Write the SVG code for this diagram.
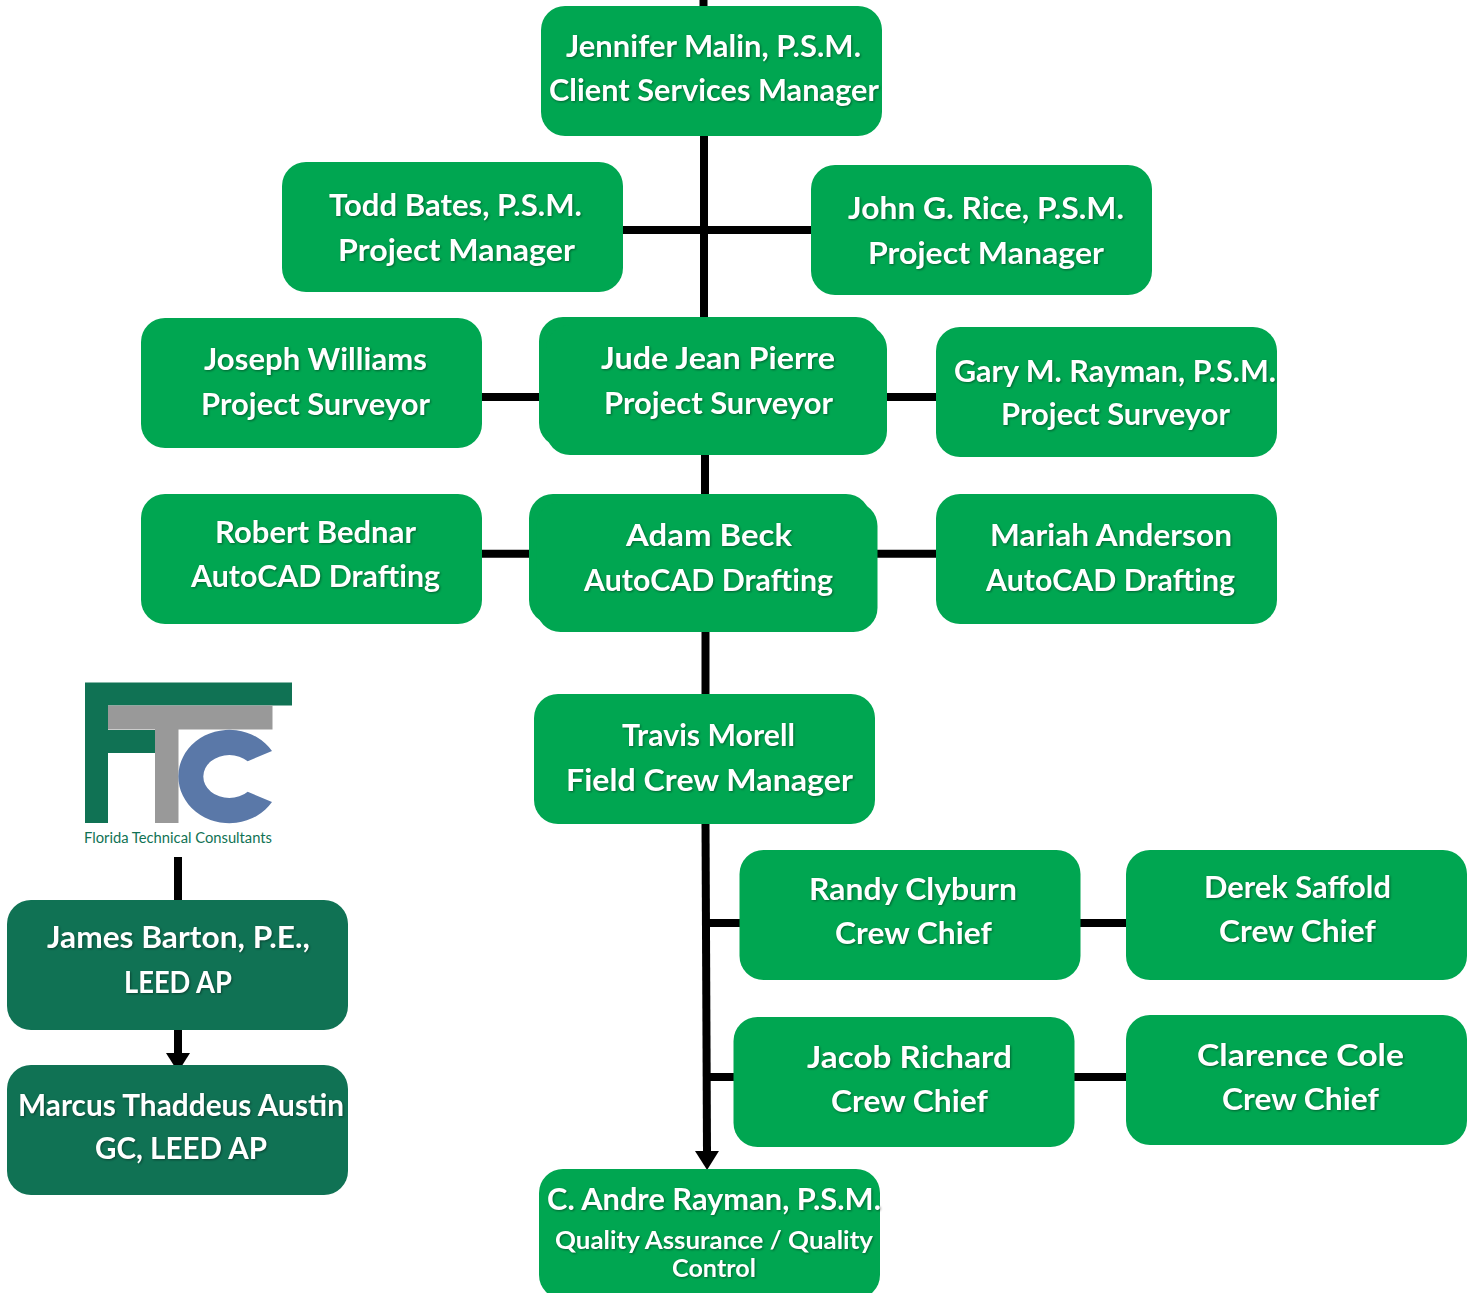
<svg xmlns="http://www.w3.org/2000/svg" width="1476" height="1293" viewBox="0 0 1476 1293">
<style>
.g{fill:#00a651}.d{fill:#107254}
.t{font-family:"Lato","Liberation Sans",sans-serif;font-weight:700;font-size:30px;fill:#fff;filter:drop-shadow(1px 1.5px 1px rgba(0,0,0,.4));transform:translateY(.8px)}
.s{font-size:25px}
.c{fill:none;stroke:#000;stroke-width:8}
.a{marker-end:url(#arrow)}
.lt{font-family:"Lato","Open Sans",sans-serif;font-size:14.5px;fill:#107254}
</style>
<defs>
<marker id="arrow" markerUnits="userSpaceOnUse" markerWidth="24" markerHeight="24" refX="0" refY="12" orient="auto"><path d="M0 0L19 12L0 24Z" fill="#000"/></marker>
</defs>
<rect width="1476" height="1293" fill="#fff"/>
<g id="connectors">
<path class="c" d="M703.5 0V8M704 134V320M620 230H815"/>
<path class="c" d="M480 397H545M885 397H940"/>
<path class="c" d="M705 452V498M705.5 630V698"/>
<path class="c" d="M480 553.8H535M875 553.8H940"/>
<path class="c a" d="M705.5 822L707 1151"/>
<path class="c" d="M706 923H743M1078 923H1130M706 1077H737M1072 1077H1130"/>
<path class="c" d="M178 857V903"/>
<path class="c a" d="M178 1028V1053"/>
</g>
<g id="logo">
<path class="d" d="M85 682.5H292V705.5H108V730H155V753H108V823H85Z"/>
<path fill="#999" d="M108 705.5H272.5V729.5H178.5V823H155V729.5H108Z"/>
<path fill="#5a78a8" d="M272 750.9A51 46.7 0 1 0 272 802.1L247.7 791.7A26 21.5 0 1 1 247.7 761.3Z"/>
<text class="lt" x="84" y="843" textLength="188" lengthAdjust="spacingAndGlyphs">Florida Technical Consultants</text>
</g>
<g id="jennifer"><rect class="g" x="541" y="6" width="341" height="130" rx="24"/><text class="t" x="566" y="56" textLength="295" lengthAdjust="spacingAndGlyphs">Jennifer Malin, P.S.M.</text><text class="t" x="549" y="100" textLength="330" lengthAdjust="spacingAndGlyphs">Client Services Manager</text></g>
<g id="todd"><rect class="g" x="282" y="162" width="341" height="130" rx="24"/><text class="t" x="329" y="215" textLength="253" lengthAdjust="spacingAndGlyphs">Todd Bates, P.S.M.</text><text class="t" x="338" y="260" textLength="237" lengthAdjust="spacingAndGlyphs">Project Manager</text></g>
<g id="john"><rect class="g" x="811" y="165" width="341" height="130" rx="24"/><text class="t" x="848" y="218" textLength="276" lengthAdjust="spacingAndGlyphs">John G. Rice, P.S.M.</text><text class="t" x="868" y="263" textLength="236" lengthAdjust="spacingAndGlyphs">Project Manager</text></g>
<g id="joseph"><rect class="g" x="141" y="318" width="341" height="130" rx="24"/><text class="t" x="204" y="369" textLength="223" lengthAdjust="spacingAndGlyphs">Joseph Williams</text><text class="t" x="201" y="414" textLength="229" lengthAdjust="spacingAndGlyphs">Project Surveyor</text></g>
<g id="jude"><rect class="g" x="539" y="317" width="341" height="130" rx="24"/><rect class="g" x="546" y="325" width="341" height="130" rx="24"/><text class="t" x="601" y="368" textLength="234" lengthAdjust="spacingAndGlyphs">Jude Jean Pierre</text><text class="t" x="604" y="413" textLength="229" lengthAdjust="spacingAndGlyphs">Project Surveyor</text></g>
<g id="gary"><rect class="g" x="936" y="327" width="341" height="130" rx="24"/><text class="t" x="954" y="381" textLength="322" lengthAdjust="spacingAndGlyphs">Gary M. Rayman, P.S.M.</text><text class="t" x="1001" y="424" textLength="229" lengthAdjust="spacingAndGlyphs">Project Surveyor</text></g>
<g id="robert"><rect class="g" x="141" y="494" width="341" height="130" rx="24"/><text class="t" x="215" y="542" textLength="201" lengthAdjust="spacingAndGlyphs">Robert Bednar</text><text class="t" x="191" y="586" textLength="249" lengthAdjust="spacingAndGlyphs">AutoCAD Drafting</text></g>
<g id="adam"><rect class="g" x="529" y="494" width="341" height="130" rx="24"/><rect class="g" x="536.5" y="502" width="341" height="130" rx="24"/><text class="t" x="626" y="545" textLength="166" lengthAdjust="spacingAndGlyphs">Adam Beck</text><text class="t" x="584" y="590" textLength="249" lengthAdjust="spacingAndGlyphs">AutoCAD Drafting</text></g>
<g id="mariah"><rect class="g" x="936" y="494" width="341" height="130" rx="24"/><text class="t" x="990" y="545" textLength="242" lengthAdjust="spacingAndGlyphs">Mariah Anderson</text><text class="t" x="986" y="590" textLength="249" lengthAdjust="spacingAndGlyphs">AutoCAD Drafting</text></g>
<g id="travis"><rect class="g" x="534" y="694" width="341" height="130" rx="24"/><text class="t" x="622" y="745" textLength="173" lengthAdjust="spacingAndGlyphs">Travis Morell</text><text class="t" x="566" y="790" textLength="287" lengthAdjust="spacingAndGlyphs">Field Crew Manager</text></g>
<g id="randy"><rect class="g" x="739.5" y="850" width="341" height="130" rx="24"/><text class="t" x="809" y="899" textLength="208" lengthAdjust="spacingAndGlyphs">Randy Clyburn</text><text class="t" x="835" y="943" textLength="157" lengthAdjust="spacingAndGlyphs">Crew Chief</text></g>
<g id="derek"><rect class="g" x="1126" y="850" width="341" height="130" rx="24"/><text class="t" x="1204" y="897" textLength="187" lengthAdjust="spacingAndGlyphs">Derek Saffold</text><text class="t" x="1219" y="941" textLength="157" lengthAdjust="spacingAndGlyphs">Crew Chief</text></g>
<g id="jacob"><rect class="g" x="733.5" y="1017" width="341" height="130" rx="24"/><text class="t" x="807" y="1067" textLength="205" lengthAdjust="spacingAndGlyphs">Jacob Richard</text><text class="t" x="831" y="1111" textLength="157" lengthAdjust="spacingAndGlyphs">Crew Chief</text></g>
<g id="clarence"><rect class="g" x="1126" y="1015" width="341" height="130" rx="24"/><text class="t" x="1197" y="1065" textLength="207" lengthAdjust="spacingAndGlyphs">Clarence Cole</text><text class="t" x="1222" y="1109" textLength="157" lengthAdjust="spacingAndGlyphs">Crew Chief</text></g>
<g id="andre"><rect class="g" x="539" y="1169" width="341" height="130" rx="24"/><text class="t" x="547" y="1209" textLength="334" lengthAdjust="spacingAndGlyphs">C. Andre Rayman, P.S.M.</text><text class="t s" x="555" y="1248" textLength="318" lengthAdjust="spacingAndGlyphs">Quality Assurance / Quality</text><text class="t s" x="672" y="1276" textLength="84" lengthAdjust="spacingAndGlyphs">Control</text></g>
<g id="james"><rect class="d" x="7" y="900" width="341" height="130" rx="24"/><text class="t" x="47" y="947" textLength="263" lengthAdjust="spacingAndGlyphs">James Barton, P.E.,</text><text class="t" x="124" y="992" textLength="108" lengthAdjust="spacingAndGlyphs">LEED AP</text></g>
<g id="marcus"><rect class="d" x="7" y="1065" width="341" height="130" rx="24"/><text class="t" x="18" y="1115" textLength="326" lengthAdjust="spacingAndGlyphs">Marcus Thaddeus Austin</text><text class="t" x="95" y="1158" textLength="172" lengthAdjust="spacingAndGlyphs">GC, LEED AP</text></g>
</svg>
